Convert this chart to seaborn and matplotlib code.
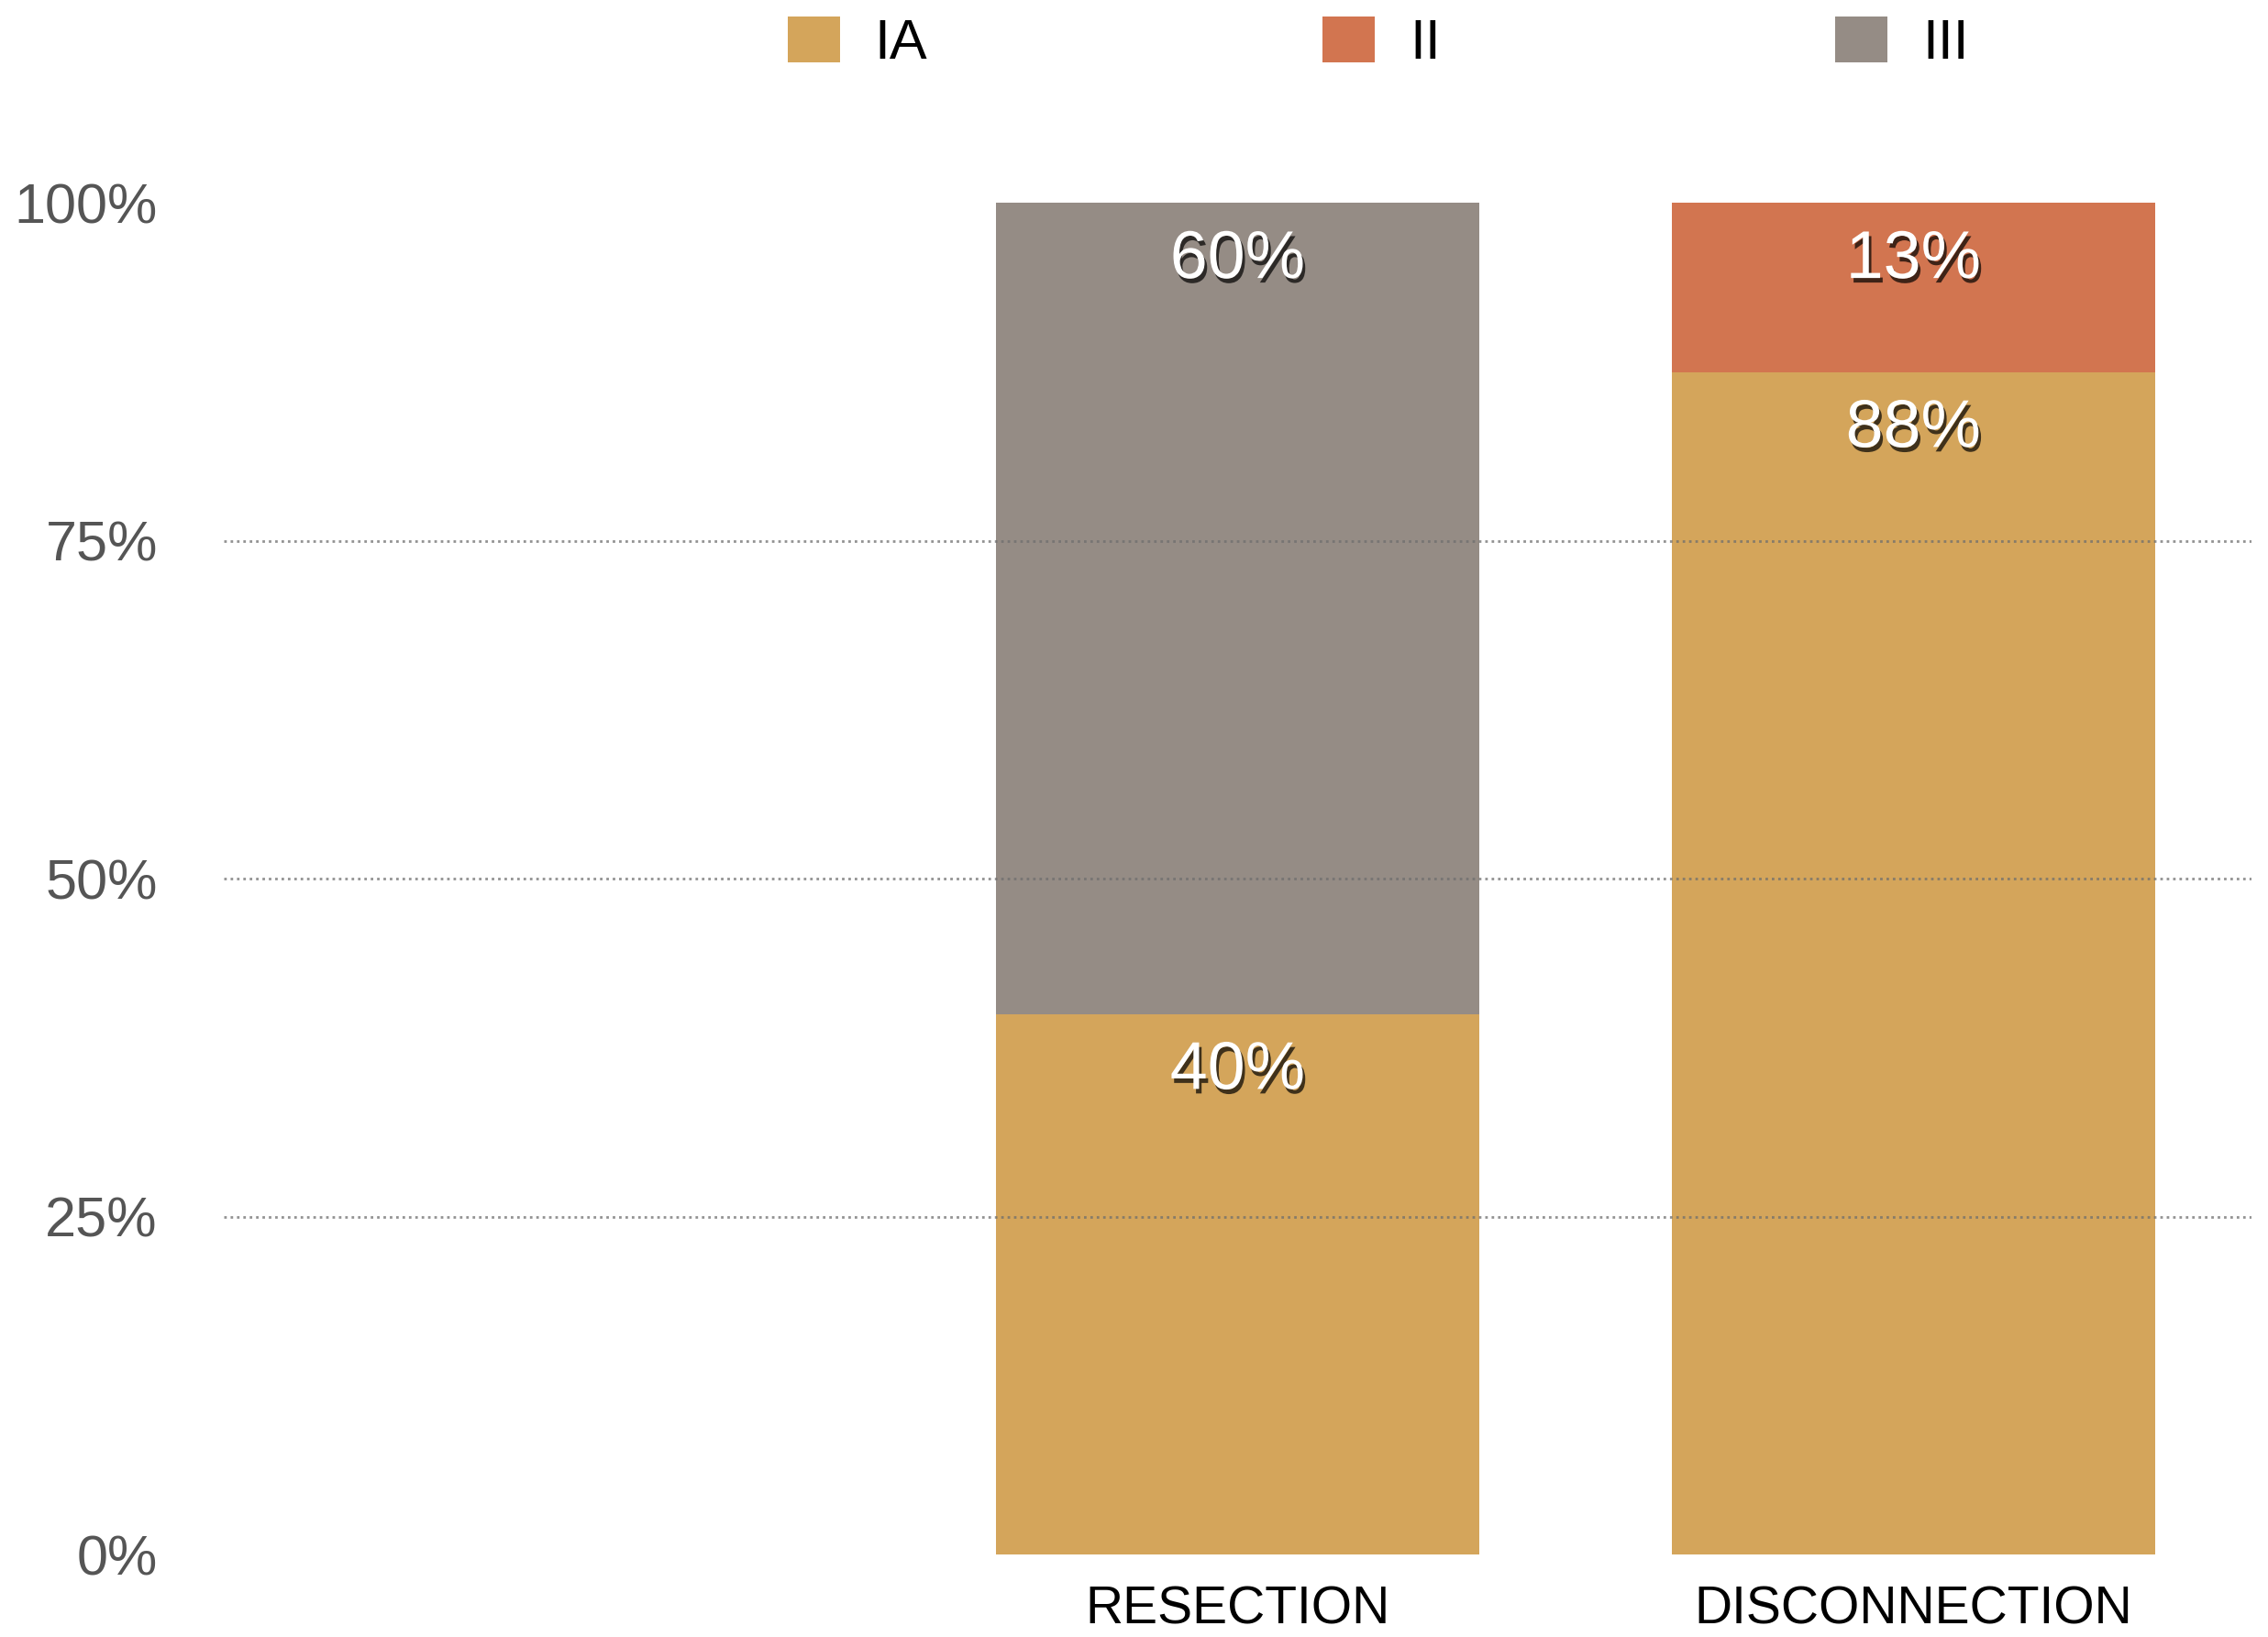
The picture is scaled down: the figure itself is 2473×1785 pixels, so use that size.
import numpy as np
import matplotlib
matplotlib.use('Agg')
import matplotlib.pyplot as plt
import matplotlib.patheffects as pe
from matplotlib.patches import Patch
import seaborn as sns

# data (percent of patients per outcome class)
categories = ["", "RESECTION", "DISCONNECTION"]
ia_vals = [0, 40, 87.5]
ii_vals = [0, 0, 12.5]
iii_vals = [0, 60, 0]
series_names = ["IA", "II", "III"]
series_colors = ["#D4A55B", "#D27550", "#958C85"]
y_ticks = [0, 25, 50, 75, 100]

sns.set_theme(style="white")
plt.rcParams['font.family'] = ['Liberation Sans', 'DejaVu Sans']

fig = plt.figure(figsize=(12.365, 8.925), dpi=200)
ax = fig.add_axes([0.0987, 0.0504, 0.894, 0.8256])

bottom = np.zeros(len(categories))
shadow = [pe.SimplePatchShadow(offset=(1.0, -1.8), shadow_rgbFace='black', alpha=0.7),
          pe.Normal()]
for name, vals, col in zip(series_names, [ia_vals, ii_vals, iii_vals], series_colors):
    vals = np.array(vals, dtype=float)
    sns.barplot(x=categories, y=vals, bottom=bottom, color=col, width=0.715,
                linewidth=0, saturation=1, errorbar=None, ax=ax, zorder=1)
    for i, v in enumerate(vals):
        if v > 0:
            ax.annotate(f"{int(v + 0.5)}%", (i, bottom[i] + v), xytext=(0, -10),
                        textcoords='offset points', ha='center', va='top',
                        fontsize=26.5, color='white', zorder=5, path_effects=shadow)
    bottom += vals

ax.set_xlim(-0.5, 2.5)
ax.set_ylim(0, 100)
ax.set_yticks(y_ticks)
ax.set_yticklabels([f"{t}%" for t in y_ticks])
for t in [25, 50, 75]:
    ax.axhline(t, color='#6e6e6e', lw=1.0, ls=(0, (1, 1.5)), alpha=0.75, zorder=3)

ax.tick_params(axis='y', length=0, pad=26, labelsize=22, labelcolor='#555555')
ax.tick_params(axis='x', length=0, pad=12, labelsize=20.5, labelcolor='black')
for s in ax.spines.values():
    s.set_visible(False)
ax.set_xlabel('')
ax.set_ylabel('')

handles = [Patch(facecolor=c, edgecolor='none', label=n) for n, c in zip(series_names, series_colors)]
fig.legend(handles=handles, loc='center left', bbox_to_anchor=(0.335, 0.9735), ncol=3,
           frameon=False, borderpad=0, fontsize=22, labelcolor='black', handlelength=0.93,
           handleheight=0.9, handletextpad=0.62, columnspacing=7.05)

fig.savefig('out.png', dpi=200)
